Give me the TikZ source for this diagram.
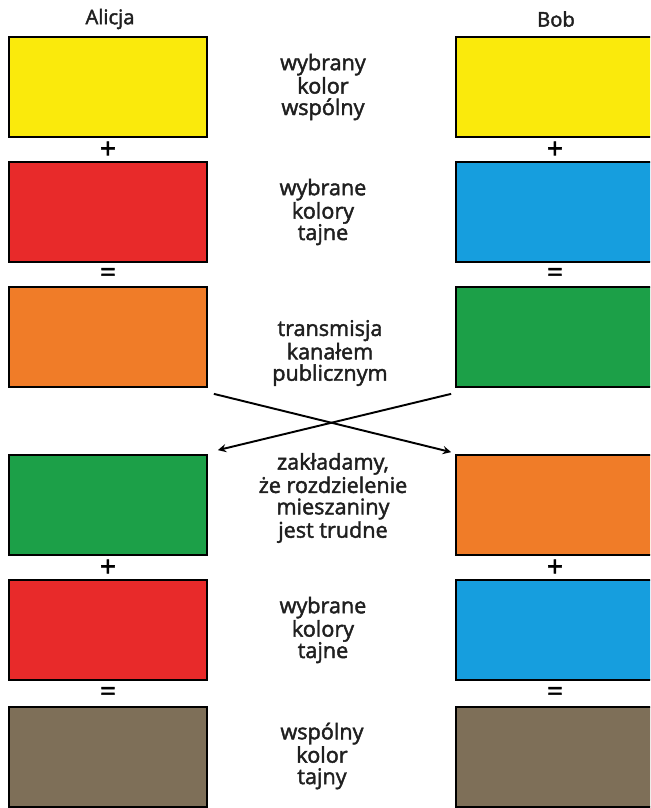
\documentclass[tikz,border=0pt]{standalone}
\usepackage{fontspec}
\setmainfont{Open Sans}
\newfontfamily\opisfont{Open Sans}[FakeBold=2]
\usetikzlibrary{positioning}

% kolory farb
\definecolor{zolty}{RGB}{250,234,12}
\definecolor{czerwony}{RGB}{232,42,42}
\definecolor{niebieski}{RGB}{22,158,222}
\definecolor{pomarancz}{RGB}{240,124,40}
\definecolor{zielony}{RGB}{28,160,72}
\definecolor{braz}{RGB}{126,111,88}

\tikzset{
  farba/.style={draw=black, line width=1pt, minimum width=3.96cm,
                minimum height=2cm, inner sep=0pt},
  opis/.style={align=center, text=black!88, font=\opisfont\fontsize{12.3}{12.2}\selectfont},
  imie/.style={text=black!88, font=\opisfont\fontsize{11.5}{12}\selectfont},
  znak/.style={font=\opisfont\fontsize{16}{16}\selectfont, inner sep=0pt},
}

\begin{document}
\begin{tikzpicture}[x=0.02cm, y=-0.02cm]
    \useasboundingbox (0,0) rectangle (650,808);
    \clip (0,0) rectangle (650,808);

    % naglowki
    \node[imie] (alicja) at (110,19) {Alicja};
    \node[imie] (bob) at (556,19) {Bob};

    % Alicja
    \node[farba, fill=zolty] (a1) at (108,87) {};
    \node[farba, fill=czerwony] (a2) at (108,212) {};
    \node[farba, fill=pomarancz] (a3) at (108,337) {};
    \node[farba, fill=zielony] (a4) at (108,505) {};
    \node[farba, fill=czerwony] (a5) at (108,630) {};
    \node[farba, fill=braz] (a6) at (108,757) {};

    % Bob
    \node[farba, fill=zolty] (b1) at (555,87) {};
    \node[farba, fill=niebieski] (b2) at (555,212) {};
    \node[farba, fill=zielony] (b3) at (555,337) {};
    \node[farba, fill=pomarancz] (b4) at (555,505) {};
    \node[farba, fill=niebieski] (b5) at (555,630) {};
    \node[farba, fill=braz] (b6) at (555,757) {};

    % znaki dzialan
    \node[znak] (ap1) at (108,150) {+};
    \node[znak] (ar1) at (108,275) {=};
    \node[znak] (ap2) at (108,568) {+};
    \node[znak] (ar2) at (108,694) {=};
    \node[znak] (bp1) at (555,150) {+};
    \node[znak] (br1) at (555,275) {=};
    \node[znak] (bp2) at (555,568) {+};
    \node[znak] (br2) at (555,694) {=};

    % opisy w srodku
    \node[opis] (t1) at (323,87) {wybrany\\kolor\\wspólny};
    \node[opis] (t2) at (323,212) {wybrane\\kolory\\tajne};
    \node[opis] (t3) at (330,353) {transmisja\\kanałem\\publicznym};
    \node[opis] (t4) at (333,498) {zakładamy,\\że rozdzielenie\\mieszaniny\\jest trudne};
    \node[opis] (t5) at (323,630) {wybrane\\kolory\\tajne};
    \node[opis] (t6) at (322,756) {wspólny\\kolor\\tajny};

    % wymiana mieszanin
    \draw[-stealth, line width=1.1pt] ([shift={(6,6)}]a3.south east) -- ([shift={(-4,-2)}]b4.north west);
    \draw[-stealth, line width=1.1pt] ([shift={(-4,6)}]b3.south west) -- ([shift={(10,-4)}]a4.north east);
\end{tikzpicture}
\end{document}
